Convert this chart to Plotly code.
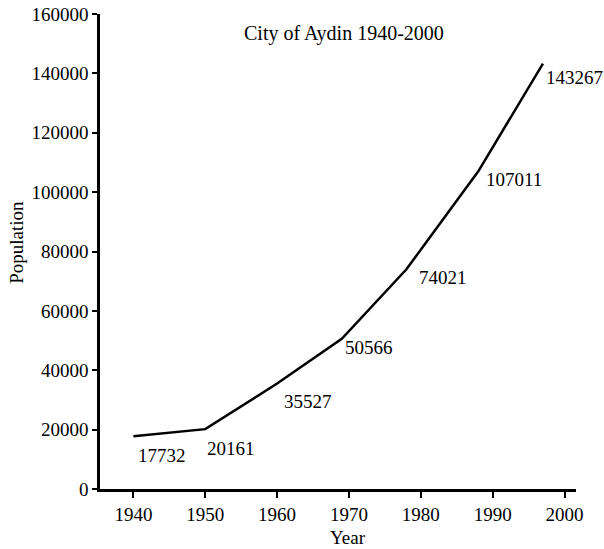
import plotly.graph_objects as go

years = [1940, 1950, 1960, 1969, 1978, 1988, 1997]
population = [17732, 20161, 35527, 50566, 74021, 107011, 143267]
labels = ["17732", "20161", "35527", "50566", "74021", "107011", "143267"]
x_ticks = [1940, 1950, 1960, 1970, 1980, 1990, 2000]
y_ticks = [0, 20000, 40000, 60000, 80000, 100000, 120000, 140000, 160000]

label_xshift = [3, 0, 5, 1, 11, 6, 1]
label_yshift = [-19, -19, -18, -9, -8, -8, -14]

FONT = "Liberation Serif"
FS = 19

fig = go.Figure()
fig.add_trace(go.Scatter(x=years, y=population, mode="lines",
                         line=dict(color="black", width=2.5),
                         showlegend=False, hoverinfo="skip"))

for yr, v, lab, dx, dy in zip(years, population, labels, label_xshift, label_yshift):
    fig.add_annotation(x=yr, y=v, text=lab, showarrow=False,
                       xanchor="left", yanchor="middle", xshift=dx, yshift=dy,
                       font=dict(family=FONT, size=FS, color="black"))

fig.add_annotation(x=0.513, y=0.959, xref="paper", yref="paper",
                   text="City of Aydin 1940-2000", showarrow=False,
                   xanchor="center", yanchor="middle",
                   font=dict(family=FONT, size=20, color="black"))
fig.add_annotation(x=-0.177, y=0.52, xref="paper", yref="paper",
                   text="Population", showarrow=False, textangle=-90,
                   xanchor="center", yanchor="middle",
                   font=dict(family=FONT, size=FS, color="black"))
fig.add_annotation(x=0.521, y=-0.103, xref="paper", yref="paper",
                   text="Year", showarrow=False,
                   xanchor="center", yanchor="middle",
                   font=dict(family=FONT, size=FS, color="black"))

fig.update_xaxes(range=[1935.35, 2001.6], tickvals=x_ticks,
                 ticktext=[str(t) for t in x_ticks],
                 showgrid=False, zeroline=False, showline=True, automargin=False,
                 linecolor="black", linewidth=2.5,
                 ticks="outside", ticklen=6, tickwidth=2, tickcolor="black",
                 tickfont=dict(family=FONT, size=FS, color="black"))
fig.update_yaxes(range=[0, 160000], tickvals=y_ticks,
                 ticktext=[str(t) for t in y_ticks],
                 showgrid=False, zeroline=False, showline=True, automargin=False,
                 linecolor="black", linewidth=2.5,
                 ticks="outside", ticklen=5, tickwidth=2, tickcolor="black",
                 tickfont=dict(family=FONT, size=FS, color="black"))

fig.update_layout(width=604, height=549,
                  margin=dict(l=100, r=28, t=14, b=60),
                  plot_bgcolor="white", paper_bgcolor="white",
                  showlegend=False)

fig.write_html("out.html", config={"displayModeBar": False},
               post_script="document.body.style.margin='0';")
